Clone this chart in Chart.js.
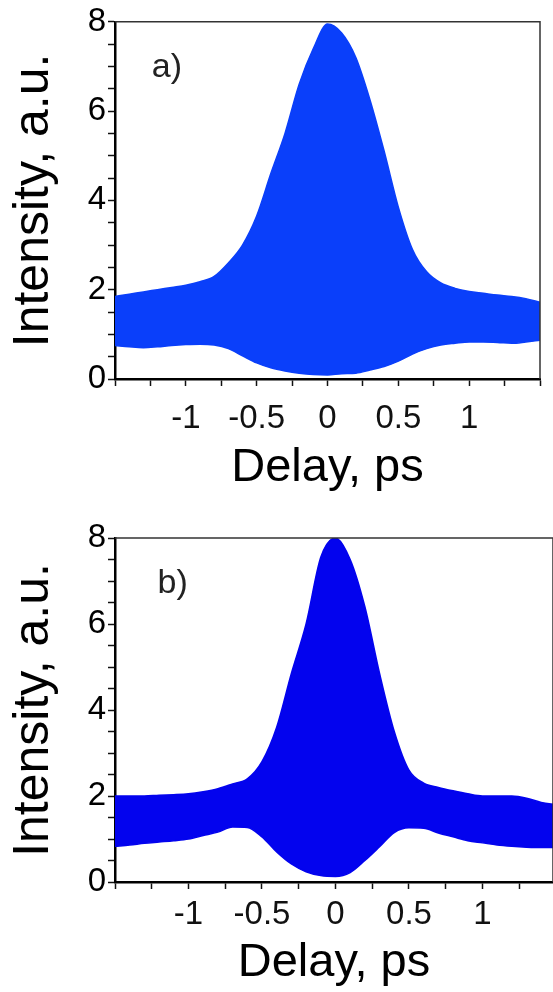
<!DOCTYPE html>
<html>
<head>
<meta charset="utf-8">
<script src="https://cdn.jsdelivr.net/npm/chart.js@4.4.1/dist/chart.umd.min.js"></script>
<style>
  body { margin: 0; background: #fff; }
  canvas { display: block; }
</style>
</head>
<body>
<canvas id="chartA" width="553" height="496"></canvas>
<canvas id="chartB" width="553" height="496"></canvas>
<script>
// --- data (fringe envelopes) ---
const delay = [-1.5, -1.4, -1.3, -1.2, -1.1, -1.0, -0.9, -0.8, -0.7, -0.6, -0.5, -0.4, -0.3, -0.2, -0.1,
               0.0, 0.1, 0.2, 0.3, 0.4, 0.5, 0.6, 0.7, 0.8, 0.9, 1.0, 1.1, 1.2, 1.3, 1.4, 1.5];

// panel a)
const upperA = [1.85, 1.9, 1.95, 2.0, 2.05, 2.1, 2.18, 2.3, 2.6, 3.0, 3.65, 4.6, 5.5, 6.6, 7.4,
                7.95, 7.75, 7.2, 6.25, 5.1, 3.85, 2.9, 2.4, 2.15, 2.03, 1.96, 1.92, 1.88, 1.85, 1.8, 1.72];
const lowerA = [0.75, 0.72, 0.70, 0.72, 0.75, 0.77, 0.78, 0.76, 0.68, 0.52, 0.36, 0.25, 0.18, 0.13, 0.1,
                0.09, 0.12, 0.13, 0.2, 0.28, 0.4, 0.56, 0.68, 0.76, 0.8, 0.83, 0.83, 0.82, 0.8, 0.83, 0.87];

// panel b)
const upperB = [2.0, 2.0, 2.0, 2.02, 2.03, 2.05, 2.1, 2.17, 2.28, 2.4, 2.8, 3.6, 4.85, 6.0, 7.55,
                8.0, 7.5, 6.4, 4.85, 3.5, 2.6, 2.3, 2.2, 2.12, 2.05, 2.0, 2.0, 2.0, 1.95, 1.85, 1.8];
const lowerB = [0.83, 0.86, 0.9, 0.93, 0.96, 1.0, 1.08, 1.16, 1.28, 1.27, 1.05, 0.7, 0.42, 0.24, 0.15,
                0.13, 0.22, 0.5, 0.82, 1.15, 1.26, 1.25, 1.14, 1.05, 0.96, 0.91, 0.86, 0.83, 0.81, 0.8, 0.8];

// tick values
const xTickValues  = [-1.5, -1.25, -1, -0.75, -0.5, -0.25, 0, 0.25, 0.5, 0.75, 1, 1.25, 1.5];
const xLabelValues = [-1, -0.5, 0, 0.5, 1];
const yTickValues  = [0, 0.5, 1, 1.5, 2, 2.5, 3, 3.5, 4, 4.5, 5, 5.5, 6, 6.5, 7, 7.5, 8];
const yLabelValues = [0, 2, 4, 6, 8];

Chart.defaults.font.family = "'Liberation Sans', Arial, sans-serif";

// top/right frame + panel letter
const framePlugin = {
  id: 'frame',
  afterDatasetsDraw(chart, args, o) {
    const { ctx, chartArea: a, scales } = chart;
    ctx.save();
    ctx.strokeStyle = '#333';
    ctx.lineWidth = 1.5;
    ctx.beginPath();
    ctx.moveTo(a.left, a.top);
    ctx.lineTo(a.right, a.top);
    ctx.lineTo(a.right, a.bottom);
    ctx.stroke();
    ctx.fillStyle = '#222';
    ctx.font = "34px 'Liberation Sans', Arial, sans-serif";
    ctx.textBaseline = 'alphabetic';
    ctx.fillText(o.text, scales.x.getPixelForValue(o.x), scales.y.getPixelForValue(o.y));
    ctx.restore();
  }
};

function makePanel(id, upper, lower, cfg) {
  const tickGrid = { drawOnChartArea: false, drawTicks: true, tickLength: 7, tickColor: '#111', tickWidth: 1.5 };
  return new Chart(document.getElementById(id), {
    type: 'line',
    data: {
      datasets: [
        {
          data: delay.map((x, i) => ({ x: x, y: lower[i] })),
          borderColor: cfg.color, backgroundColor: cfg.color,
          borderWidth: 1.5, pointRadius: 0, cubicInterpolationMode: 'monotone', fill: false
        },
        {
          data: delay.map((x, i) => ({ x: x, y: upper[i] })),
          borderColor: cfg.color, backgroundColor: cfg.color,
          borderWidth: 1.5, pointRadius: 0, cubicInterpolationMode: 'monotone', fill: '-1'
        }
      ]
    },
    options: {
      responsive: false,
      animation: false,
      layout: { padding: { top: cfg.padTop, right: cfg.padRight, bottom: 0, left: 0 } },
      plugins: {
        legend: { display: false },
        tooltip: { enabled: false },
        frame: cfg.label
      },
      scales: {
        x: {
          type: 'linear', min: -1.5, max: cfg.xMax,
          afterBuildTicks: s => { s.ticks = xTickValues.filter(v => v <= cfg.xMax + 1e-9).map(v => ({ value: v })); },
          afterFit: s => { s.height = cfg.xHeight; },
          ticks: {
            autoSkip: false, maxRotation: 0, padding: cfg.xLabelPad, color: '#111',
            font: { size: 33 },
            callback: v => xLabelValues.includes(v) ? String(v) : ''
          },
          grid: tickGrid,
          border: { display: true, color: '#000', width: 2.5 },
          title: {
            display: true, text: 'Delay, ps', color: '#000',
            font: { size: 47 }, padding: { top: 0, bottom: cfg.xTitlePad }
          }
        },
        y: {
          min: 0, max: 8,
          afterBuildTicks: s => { s.ticks = yTickValues.map(v => ({ value: v })); },
          afterFit: s => { s.width = 115; },
          ticks: {
            autoSkip: false, padding: 2, color: '#000',
            font: { size: 33 },
            callback: v => yLabelValues.includes(v) ? String(v) : ''
          },
          grid: tickGrid,
          border: { display: true, color: '#000', width: 2.5 },
          title: {
            display: true, text: 'Intensity, a.u.', color: '#000',
            font: { size: 50 }, padding: { top: 4, bottom: 0 }
          }
        }
      }
    },
    plugins: [framePlugin]
  });
}

makePanel('chartA', upperA, lowerA, {
  color: '#0a3ffa', xMax: 1.5, padTop: 19, padRight: 1, xHeight: 117,
  xLabelPad: 13, xTitlePad: 0,
  label: { text: 'a)', x: -1.24, y: 6.76 }
});

makePanel('chartB', upperB, lowerB, {
  color: '#0303ee', xMax: 1.48, padTop: 42, padRight: 0, xHeight: 110,
  xLabelPad: 6, xTitlePad: 1,
  label: { text: 'b)', x: -1.21, y: 6.72 }
});
</script>
</body>
</html>
